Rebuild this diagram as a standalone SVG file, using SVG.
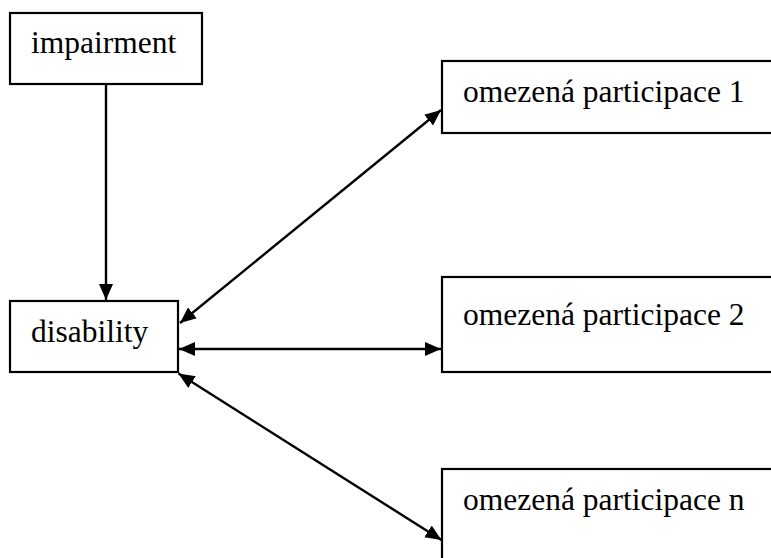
<svg xmlns="http://www.w3.org/2000/svg" width="771" height="558" viewBox="0 0 771 558">
<style>
.box{fill:#fff;stroke:#000;stroke-width:2.2}
.lbl{font-family:"Liberation Serif","Times New Roman",serif;font-size:31.5px;fill:#000}
.con{fill:none;stroke:#000;stroke-width:2.4}
</style>
<defs>
<marker id="ah" markerUnits="userSpaceOnUse" markerWidth="17" markerHeight="14" refX="16" refY="7" orient="auto-start-reverse" viewBox="0 0 17 14">
<path d="M0,0 L16,7 L0,14 Z" fill="#000"/>
</marker>
</defs>
<rect width="771" height="558" fill="#fff"/>
<g id="impairment"><rect class="box" x="10" y="13" width="192" height="71"/><text class="lbl" x="31" y="53">impairment</text></g>
<g id="disability"><rect class="box" x="10" y="301" width="168" height="71"/><text class="lbl" x="31" y="342">disability</text></g>
<g id="participace1"><rect class="box" x="442" y="61" width="340" height="72"/><text class="lbl" x="463" y="102">omezená participace 1</text></g>
<g id="participace2"><rect class="box" x="442" y="277" width="340" height="95"/><text class="lbl" x="463" y="325">omezená participace 2</text></g>
<g id="participacen"><rect class="box" x="442" y="469" width="340" height="100"/><text class="lbl" x="463" y="510">omezená participace n</text></g>
<g id="connectors">
<path class="con" d="M106,84 L106,300" marker-end="url(#ah)"/>
<path class="con" d="M180,323 L441,110" marker-start="url(#ah)" marker-end="url(#ah)"/>
<path class="con" d="M179,349 L441,349" marker-start="url(#ah)" marker-end="url(#ah)"/>
<path class="con" d="M178.5,373.5 L441.5,540" marker-start="url(#ah)" marker-end="url(#ah)"/>
</g>
</svg>
